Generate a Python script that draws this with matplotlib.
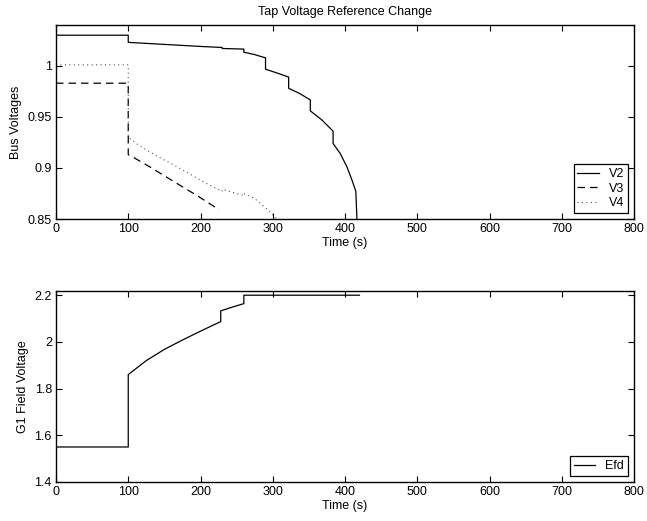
import matplotlib
matplotlib.use("Agg")
import matplotlib.pyplot as plt

plt.rcParams['font.family'] = ['Liberation Sans', 'DejaVu Sans']
plt.rcParams['font.size'] = 9

# bus voltages
t_v2 = [0, 100, 100, 150, 200, 230, 230, 260, 260, 275, 290, 290, 306, 322, 322,
        337, 352, 352, 368, 383.5, 383.5, 393.5, 402.7, 409.7, 415, 416.5]
v2 = [1.030, 1.030, 1.023, 1.021, 1.019, 1.018, 1.017, 1.0164, 1.0134, 1.011, 1.0078,
      0.9967, 0.993, 0.989, 0.978, 0.973, 0.9666, 0.9559, 0.947, 0.936, 0.924,
      0.914, 0.901, 0.888, 0.877, 0.85]

t_v3 = [0, 100, 100, 103, 130, 160, 195, 226]
v3 = [0.983, 0.983, 0.913, 0.912, 0.901, 0.888, 0.873, 0.859]

t_v4 = [0, 100, 100, 115, 136, 160, 183, 205, 230, 230, 260, 260, 275, 290, 306]
v4 = [1.001, 1.001, 0.930, 0.922, 0.913, 0.904, 0.895, 0.886, 0.877, 0.879,
      0.873, 0.875, 0.870, 0.861, 0.85]

# G1 field voltage
t_efd = [0, 100, 100, 125, 150, 175, 200, 228, 228, 245, 260, 260, 420]
efd = [1.55, 1.55, 1.86, 1.92, 1.968, 2.008, 2.046, 2.087, 2.133, 2.15, 2.164, 2.2, 2.2]

W, H = 647, 521
fig = plt.figure(figsize=(W / 100, H / 100), dpi=100)
ax1 = fig.add_axes([56 / W, 1 - 219 / H, 578 / W, 194 / H])
ax2 = fig.add_axes([56 / W, 1 - 482 / H, 578 / W, 191 / H])

lw = 0.9
ax1.plot(t_v2, v2, color='black', lw=lw, label='V2')
ax1.plot(t_v3, v3, color='black', lw=lw, ls=(0, (6, 4)), label='V3')
ax1.plot(t_v4, v4, color='#555555', lw=0.8, ls=(0, (1, 3)), label='V4')
ax1.set_xlim(0, 800)
ax1.set_ylim(0.85, 1.04)
ax1.set_yticks([0.85, 0.9, 0.95, 1.0])
ax1.set_yticklabels(['0.85', '0.9', '0.95', '1'])
ax1.set_ylabel('Bus Voltages')
ax1.set_xlabel('Time (s)', labelpad=1)
ax1.set_title('Tap Voltage Reference Change', fontsize=9, pad=7)

ax2.plot(t_efd, efd, color='black', lw=lw, label='Efd')
ax2.set_xlim(0, 800)
ax2.set_ylim(1.4, 2.218)
ax2.set_yticks([1.4, 1.6, 1.8, 2.0, 2.2])
ax2.set_yticklabels(['1.4', '1.6', '1.8', '2', '2.2'])
ax2.set_ylabel('G1 Field Voltage')
ax2.set_xlabel('Time (s)', labelpad=1)

for ax in (ax1, ax2):
    ax.set_xticks(range(0, 801, 100))
    ax.tick_params(direction='in', length=4, width=0.8, top=True, right=True,
                   labelsize=9, pad=3)
    for s in ax.spines.values():
        s.set_linewidth(1.0)
    leg = ax.legend(loc='lower right', fancybox=False, framealpha=1,
                    edgecolor='black', handlelength=1.7, labelspacing=0.2,
                    borderpad=0.3, handletextpad=0.8, borderaxespad=0.5)
    leg.get_frame().set_linewidth(0.9)

fig.savefig('out.png', dpi=100)
